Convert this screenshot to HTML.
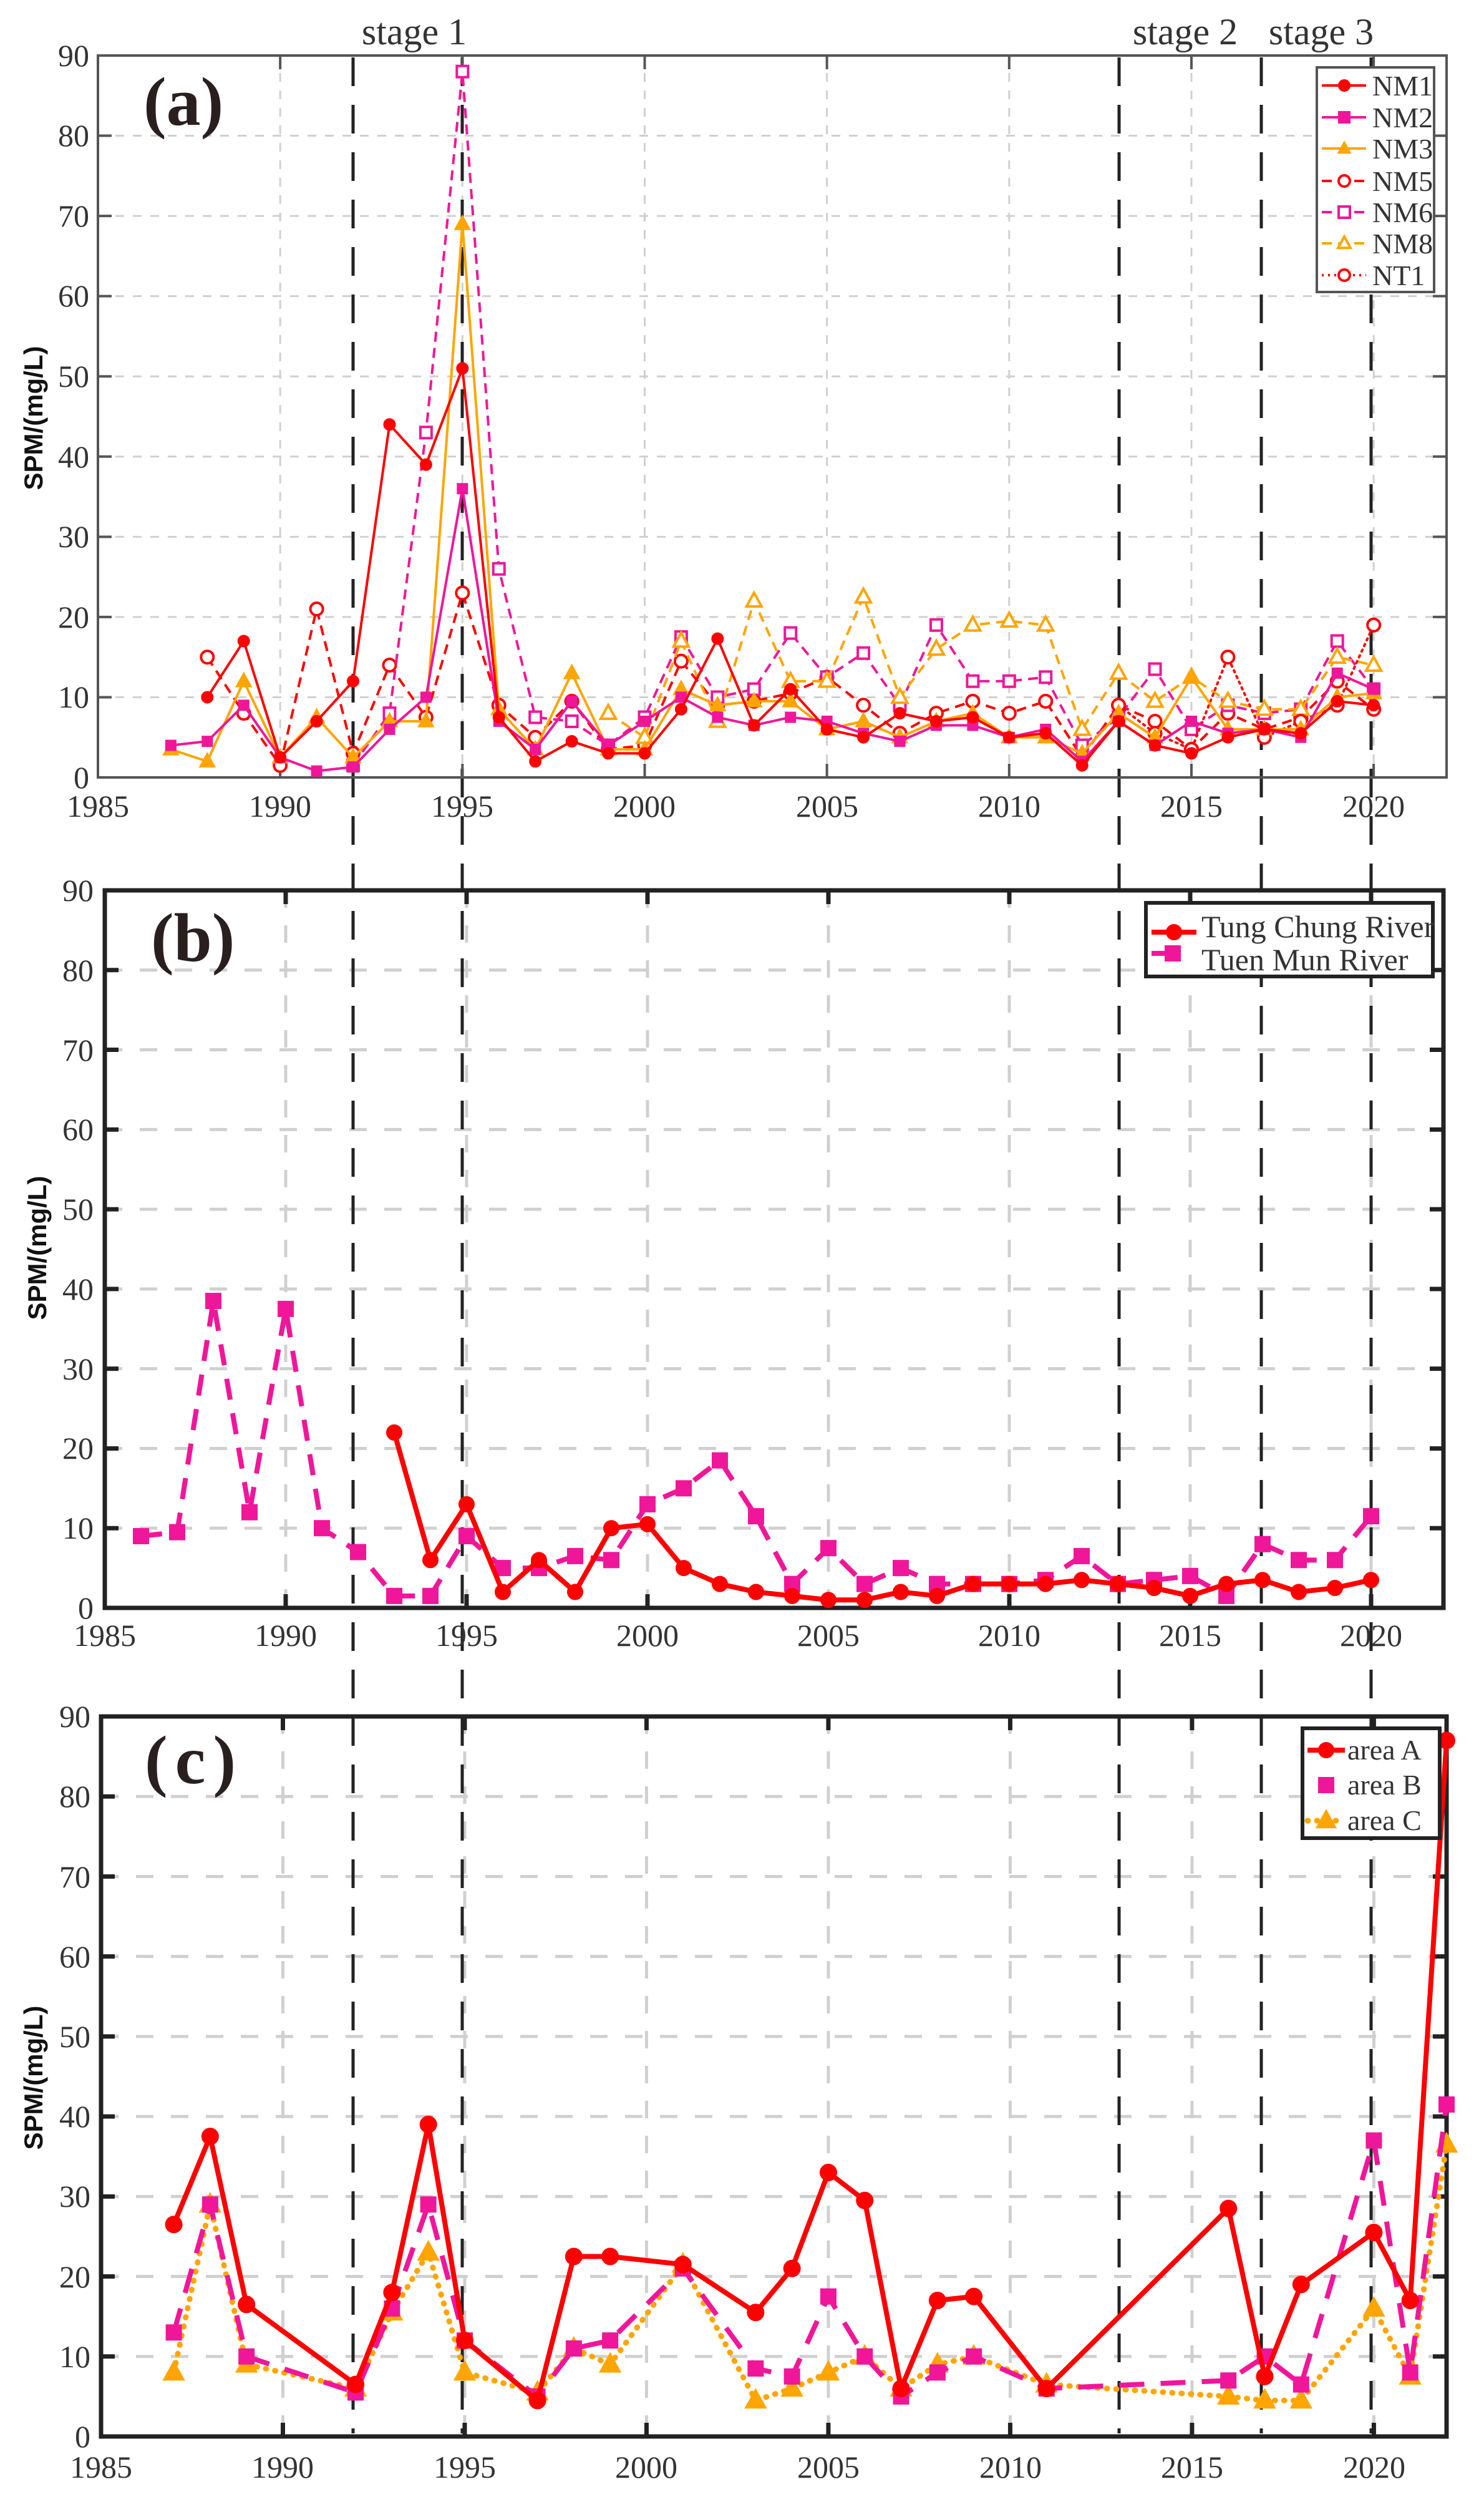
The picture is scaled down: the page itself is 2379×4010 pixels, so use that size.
<!DOCTYPE html>
<html><head><meta charset="utf-8"><style>
html,body{margin:0;padding:0;background:#fff;}
svg{display:block}
text{font-family:"Liberation Serif",serif;fill:#333}
.yl{font-family:"Liberation Sans",sans-serif;font-weight:bold;font-size:42px;fill:#111}
.tk{font-size:50px}
.lg{font-size:46px;fill:#222}
.pl{font-weight:bold;font-size:110px;fill:#2a1f1f}
</style></head><body>
<svg id="s" width="2379" height="4010" viewBox="0 0 2379 4010" xmlns="http://www.w3.org/2000/svg">
<g id="grid"></g>
<g id="stage"></g>
<g id="axes"></g>
<g id="series"></g>
<g id="leg"></g>
<text x="664" y="71" font-size="60" text-anchor="middle">stage 1</text>
<text x="1900" y="71" font-size="60" text-anchor="middle">stage 2</text>
<text x="2118" y="71" font-size="60" text-anchor="middle">stage 3</text>
<text class="pl" x="230" y="200">(a)</text>
<text class="pl" x="242" y="1540">(b)</text>
<text class="pl" x="232" y="2858" letter-spacing="12">(c)</text>
<text class="yl" transform="translate(68,670) rotate(-90)" text-anchor="middle">SPM/(mg/L)</text>
<text class="yl" transform="translate(74,2000) rotate(-90)" text-anchor="middle">SPM/(mg/L)</text>
<text class="yl" transform="translate(68,3330) rotate(-90)" text-anchor="middle">SPM/(mg/L)</text>
<g class="tk" text-anchor="middle">
<text x="157" y="1309">1985</text><text x="449" y="1309">1990</text><text x="741" y="1309">1995</text><text x="1033" y="1309">2000</text><text x="1326" y="1309">2005</text><text x="1618" y="1309">2010</text><text x="1910" y="1309">2015</text><text x="2202" y="1309">2020</text>
<text x="168" y="2638">1985</text><text x="458" y="2638">1990</text><text x="748" y="2638">1995</text><text x="1038" y="2638">2000</text><text x="1328" y="2638">2005</text><text x="1618" y="2638">2010</text><text x="1908" y="2638">2015</text><text x="2198" y="2638">2020</text>
<text x="162" y="3971">1985</text><text x="453" y="3971">1990</text><text x="745" y="3971">1995</text><text x="1036" y="3971">2000</text><text x="1328" y="3971">2005</text><text x="1620" y="3971">2010</text><text x="1911" y="3971">2015</text><text x="2203" y="3971">2020</text>
</g>
<g class="tk" text-anchor="end">
<text x="143" y="1263">0</text><text x="143" y="1134">10</text><text x="143" y="1006">20</text><text x="143" y="877">30</text><text x="143" y="749">40</text><text x="143" y="620">50</text><text x="143" y="491">60</text><text x="143" y="363">70</text><text x="143" y="234">80</text><text x="143" y="106">90</text>
<text x="150" y="2594">0</text><text x="150" y="2466">10</text><text x="150" y="2338">20</text><text x="150" y="2211">30</text><text x="150" y="2083">40</text><text x="150" y="1955">50</text><text x="150" y="1827">60</text><text x="150" y="1700">70</text><text x="150" y="1572">80</text><text x="150" y="1444">90</text>
<text x="145" y="3922">0</text><text x="145" y="3794">10</text><text x="145" y="3666">20</text><text x="145" y="3537">30</text><text x="145" y="3409">40</text><text x="145" y="3281">50</text><text x="145" y="3153">60</text><text x="145" y="3025">70</text><text x="145" y="2896">80</text><text x="145" y="2768">90</text>
</g>
<g class="lg">
<text x="2200" y="153">NM1</text><text x="2200" y="204">NM2</text><text x="2200" y="254">NM3</text><text x="2200" y="306">NM5</text><text x="2200" y="356">NM6</text><text x="2200" y="406">NM8</text><text x="2200" y="457">NT1</text>
<text x="1926" y="1502" font-size="50">Tung Chung River</text><text x="1926" y="1555" font-size="50">Tuen Mun River</text>
<text x="2160" y="2820">area A</text><text x="2160" y="2876">area B</text><text x="2160" y="2933">area C</text>
</g>
</svg>
<script>
const NS="http://www.w3.org/2000/svg";
function el(p,t,a){const e=document.createElementNS(NS,t);for(const k in a)e.setAttribute(k,a[k]);document.getElementById(p).appendChild(e);return e;}
const P={A:{x0:157,x1:2319,t:89,b:1246,aw:4,ac:"#555",gd:"14 14",gw:3},
B:{x0:168,x1:2314,t:1427,b:2577,aw:7,ac:"#222",gd:"28 28",gw:5},
C:{x0:162,x1:2319,t:2751,b:3905,aw:7,ac:"#222",gd:"28 28",gw:5}};
const X=(p,y)=>p.x0+(y-1985)*(p.x1-p.x0)/37, Y=(p,v)=>p.b-v/90*(p.b-p.t);
for(const k in P){const p=P[k];
 for(let v=10;v<90;v+=10)el("grid","line",{x1:p.x0,x2:p.x1,y1:Y(p,v),y2:Y(p,v),stroke:"#d0d0d0","stroke-width":p.gw,"stroke-dasharray":p.gd});
 for(let y=1990;y<=2020;y+=5)el("grid","line",{x1:X(p,y),x2:X(p,y),y1:p.t,y2:p.b,stroke:"#d0d0d0","stroke-width":p.gw,"stroke-dasharray":p.gd});
 el("axes","rect",{x:p.x0,y:p.t,width:p.x1-p.x0,height:p.b-p.t,fill:"none",stroke:p.ac,"stroke-width":p.aw});
 for(let v=10;v<90;v+=10){el("axes","line",{x1:p.x0,x2:p.x0+22,y1:Y(p,v),y2:Y(p,v),stroke:p.ac,"stroke-width":p.aw});el("axes","line",{x1:p.x1,x2:p.x1-22,y1:Y(p,v),y2:Y(p,v),stroke:p.ac,"stroke-width":p.aw});}
 for(let y=1990;y<=2020;y+=5){el("axes","line",{x1:X(p,y),x2:X(p,y),y1:p.b,y2:p.b-22,stroke:p.ac,"stroke-width":p.aw});el("axes","line",{x1:X(p,y),x2:X(p,y),y1:p.t,y2:p.t+22,stroke:p.ac,"stroke-width":p.aw});}
}
[566,741,1794,2022,2198].forEach(x=>el("stage","line",{x1:x,x2:x,y1:92,y2:3900,stroke:"#222","stroke-width":5,"stroke-dasharray":"46 30"}));
function mk(g,type,x,y,c,s,open,sw){
 const a={fill:open?"#fff":c,stroke:c,"stroke-width":sw};
 if(type=="o")el(g,"circle",Object.assign({cx:x,cy:y,r:s},a));
 else if(type=="s")el(g,"rect",Object.assign({x:x-s,y:y-s,width:2*s,height:2*s},a));
 else if(type=="^")el(g,"polygon",Object.assign({points:`${x},${y-s*1.2} ${x-s*1.1},${y+s*0.8} ${x+s*1.1},${y+s*0.8}`},a));
}
function ser(p,start,vals,c,w,dash,type,s,open){
 const dotted=dash!=="" && parseFloat(dash)<=3;
 let pts=[];const flush=()=>{if(pts.length>1)el("series","polyline",{points:pts.join(" "),fill:"none",stroke:c,"stroke-width":w,"stroke-dasharray":dash,"stroke-linejoin":"round","stroke-linecap":dotted?"round":"butt"});pts=[];};
 const ms=[];
 vals.forEach((v,i)=>{if(v==null){flush();return;}const yr=Array.isArray(start)?start[i]:start+i;const x=X(p,yr),y=Y(p,v);pts.push(x+","+y);ms.push([x,y]);});
 flush();ms.forEach(m=>mk("series",type,m[0],m[1],c,s,open,open?4:2));
}
const R="#ff0000",M="#f0169a",O="#ffa500",A=P.A,B=P.B,C=P.C;
ser(A,1988,[15,8,1.5,21,3,14,7.5,23,9,5,9.5,3.5,4,14.5,9,9.5,10.5,12.5,9,5.5,8,9.5,8,9.5,2.5,9,7,3.5,8,6,7.5,12,8.5],R,4,"16 10","o",10,true);
ser(A,1992,[1.5,8,43,88,26,7.5,7,4,7.5,17.5,10,11,18,12.5,15.5,9,19,12,12,12.5,4,7.5,13.5,6,9,8,8.5,17,11],M,4,"16 10","s",9,true);
ser(A,1999,[8,5,17,7,22,12,12,22.5,10,16,19,19.5,19,6,13,9.5,12.5,9.5,8.5,8.5,15,14],O,4,"16 10","^",11,true);
ser(A,2013,[9,5.5,3.5,15,5,7,9,19],R,4,"3 7","o",10,true);
ser(A,1987,[3.5,2,12,2.5,7.5,2.5,7,7,69,8.5,3.5,13,3.5,3.5,11,9,9.5,9.5,6,7,5,7,8,5,5,3,8,5,12.5,6,6,6,10,10.5],O,4,"","^",11,false);
ser(A,1987,[4,4.5,9,2.5,0.8,1.3,6,10,36,7,3.5,9.5,4,7,10,7.5,6.5,7.5,7,5.5,4.5,6.5,6.5,5,6,2,7,4,7,5.5,6,5,13,11],M,4,"","s",8,false);
ser(A,1988,[10,17,2.5,7,12,44,39,51,7.5,2,4.5,3,3,8.5,17.3,6.5,11,6,5,8,7,7.5,5,5.5,1.5,7,4,3,5,6,5.5,9.5,9],R,4,"","o",9,false);
ser(B,1986,[9,9.5,38.5,12,37.5,10,7,1.5,1.5,9,5,5,6.5,6,13,15,18.5,11.5,3,7.5,3,5,3,3,3,3.5,6.5,3,3.5,4,1.5,8,6,6,11.5],M,8,"34 22","s",12,false);
ser(B,1993,[22,6,13,2,6,2,10,10.5,5,3,2,1.5,1,1,2,1.5,3,3,3,3.5,3,2.5,1.5,3,3.5,2,2.5,3.5],R,8,"","o",12,false);
const cy=[1987,1988,1989,1992,1993,1994,1995,1997,1998,1999,2001,2003,2004,2005,2006,2007,2008,2009,2011,2016,2017,2018,2020,2021,2022];
ser(C,cy,[8,29,9,6,15.5,23,8,5.5,11,9,21.5,4.5,6,8,10,6,9,10,6.5,5,4.5,4.5,16,7.5,36.5],O,9,"1 14","^",15,false);
ser(C,cy,[13,29,10,5.5,16,29,12,5,11,12,21,8.5,7.5,17.5,10,5,8,10,6,7,10,6.5,37,8,41.5],M,8,"40 26","s",12,false);
ser(C,cy,[26.5,37.5,16.5,6.5,18,39,12,4.5,22.5,22.5,21.5,15.5,21,33,29.5,6,17,17.5,6,28.5,7.5,19,25.5,17,87],R,8,"","o",13,false);
el("leg","rect",{x:2111,y:108,width:188,height:360,fill:"#fff",stroke:"#555","stroke-width":4});
const la=[[137,R,"","o",false],[188,M,"","s",false],[238,O,"","^",false],[290,R,"16 10","o",true],[340,M,"16 10","s",true],[390,O,"16 10","^",true],[441,R,"3 7","o",true]];
la.forEach(l=>{el("leg","line",{x1:2119,x2:2190,y1:l[0],y2:l[0],stroke:l[1],"stroke-width":4,"stroke-dasharray":l[2]});mk("leg",l[3],2155,l[0],l[1],9,l[4],l[4]?4:2);});
el("leg","rect",{x:1837,y:1447,width:460,height:118,fill:"#fff",stroke:"#222","stroke-width":6});
el("leg","line",{x1:1846,x2:1918,y1:1494,y2:1494,stroke:R,"stroke-width":8});mk("leg","o",1882,1494,R,12,false,2);
el("leg","line",{x1:1846,x2:1870,y1:1528,y2:1528,stroke:M,"stroke-width":8});mk("leg","s",1880,1528,M,12,false,2);
el("leg","rect",{x:2088,y:2770,width:220,height:176,fill:"#fff",stroke:"#222","stroke-width":6});
el("leg","line",{x1:2096,x2:2156,y1:2805,y2:2805,stroke:R,"stroke-width":8});mk("leg","o",2126,2805,R,12,false,2);
mk("leg","s",2126,2861,M,12,false,2);
el("leg","line",{x1:2096,x2:2156,y1:2918,y2:2918,stroke:O,"stroke-width":9,"stroke-dasharray":"1 14","stroke-linecap":"round"});mk("leg","^",2126,2918,O,14,false,2);
</script>
</body></html>
